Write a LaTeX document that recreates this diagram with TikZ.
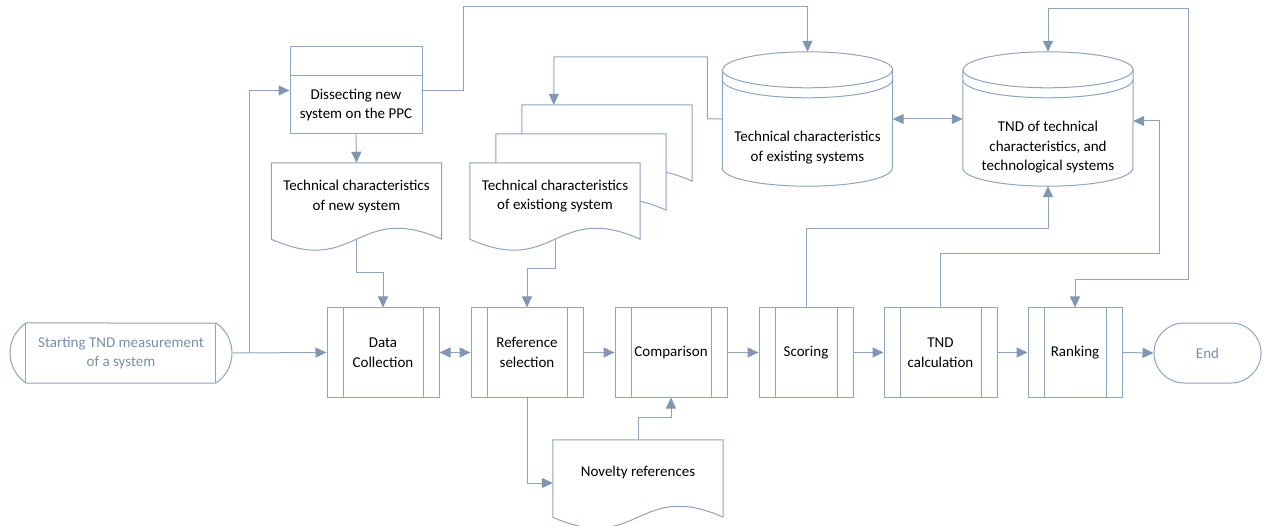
\documentclass[tikz,border=0pt]{standalone}
\usepackage{fontspec}
\setmainfont{Carlito}
\usetikzlibrary{arrows.meta,calc,shapes.misc}
\definecolor{linec}{RGB}{143,164,190}
\definecolor{arrc}{RGB}{128,150,178}
\definecolor{termtxt}{RGB}{122,143,170}
\newcommand\docoutline[1]{%
  \draw[conn,fill=white] (#1.north west) -- (#1.north east) -- (#1.south east)
    .. controls ($(#1.south)+(0,-38)$) and ($(#1.south)+(0,38)$) .. (#1.south west) -- cycle;}
\newcommand\dboutline[1]{%
  \draw[conn,fill=white] ($(#1.north west)+(0,18)$) -- ($(#1.south west)+(0,-18)$)
    arc[start angle=180,end angle=360,x radius=85pt,y radius=18pt]
    -- ($(#1.north east)+(0,18)$)
    arc[start angle=0,end angle=180,x radius=85pt,y radius=18pt] -- cycle;
  \draw[conn] ($(#1.north west)+(0,18)$) arc[start angle=180,end angle=360,x radius=85pt,y radius=18pt];
  \draw[conn] ($(#1.north west)+(0,28)$) arc[start angle=180,end angle=360,x radius=85pt,y radius=18pt];}
\begin{document}
\begin{tikzpicture}[x=1pt,y=-1pt,
  font=\fontsize{15}{19.5}\selectfont,
  conn/.style={draw=linec,line width=1pt},
  arr/.style={conn,-{Triangle[length=11pt,width=10pt,fill=arrc,color=arrc]}},
  darr/.style={conn,{Triangle[length=11pt,width=10pt,fill=arrc,color=arrc]}-{Triangle[length=11pt,width=10pt,fill=arrc,color=arrc]}},
  txt/.style={align=center,inner sep=0pt},
  proc/.style={draw=linec,line width=1pt,fill=white,minimum height=89pt,inner sep=2pt,align=center,
    path picture={
      \draw[linec,line width=1pt] ([xshift=16pt]path picture bounding box.north west) -- ([xshift=16pt]path picture bounding box.south west);
      \draw[linec,line width=1pt] ([xshift=-16pt]path picture bounding box.north east) -- ([xshift=-16pt]path picture bounding box.south east);}},
  docbox/.style={minimum width=170pt,minimum height=76pt,inner sep=0pt},
  dbbox/.style={minimum width=170pt,minimum height=134pt,inner sep=0pt},
  term/.style={draw=linec,line width=1pt,fill=white,rounded rectangle,minimum height=60pt,text=termtxt,align=center,inner sep=0pt}
]
\useasboundingbox (0,0) rectangle (1265,526);

% terminators
\node[term,rounded rectangle arc length=112,minimum width=222pt,
  path picture={
    \draw[linec,line width=1pt] ([xshift=16pt]path picture bounding box.north west) -- ([xshift=16pt]path picture bounding box.south west);
    \draw[linec,line width=1pt] ([xshift=-17pt]path picture bounding box.north east) -- ([xshift=-17pt]path picture bounding box.south east);}]
  (start) at (121,353) {Starting TND measurement\\of a system};
\node[term,minimum width=107pt] (fin) at (1207.5,353) {End};

% processes
\node[proc,minimum width=112pt] (dc) at (383,352.5) {Data\\Collection};
\node[proc,minimum width=112pt] (ref) at (527,352.5) {Reference\\selection};
\node[proc,minimum width=112pt] (comp) at (671,352.5) {Comparison};
\node[proc,minimum width=94pt] (scoring) at (806,352.5) {Scoring};
\node[proc,minimum width=113pt] (tndcalc) at (940.5,352.5) {TND\\calculation};
\node[proc,minimum width=94pt] (ranking) at (1075,352.5) {Ranking};

% dissecting box
\node[draw=linec,line width=1pt,fill=white,minimum width=132pt,minimum height=87pt,inner sep=0pt] (dissect) at (356,90.5) {};
\draw[conn] ($(dissect.north west)+(0,29)$) -- ($(dissect.north east)+(0,29)$);
\node[txt] (dissectt) at (356,105) {Dissecting new\\system on the PPC};

% documents
\node[docbox] (docnew) at (356.5,201) {};
\docoutline{docnew}
\node[txt] (docnewt) at (356.5,196.5) {Technical characteristics\\of new system};

\node[docbox] (docback) at (607,143) {};
\docoutline{docback}
\node[docbox] (docmid) at (581,172) {};
\docoutline{docmid}
\node[docbox] (docex) at (555,201) {};
\docoutline{docex}
\node[txt] (docext) at (555,196) {Technical characteristics\\of existiong system};

\node[docbox,minimum height=77pt] (novelty) at (638,478.5) {};
\docoutline{novelty}
\node[txt] (noveltyt) at (638,472) {Novelty references};

% databases
\node[dbbox] (exdb) at (807.5,119) {};
\dboutline{exdb}
\node[txt] (exdbt) at (807.5,147.5) {Technical characteristics\\of existing systems};
\node[dbbox] (tnddb) at (1048,119) {};
\dboutline{tnddb}
\node[txt] (tnddbt) at (1048,147.5) {TND of technical\\characteristics, and\\technological systems};

% connectors
\draw[arr] (start.east) -- (dc.west);
\draw[arr] ($(start.east)+(17,0)$) |- (dissect.west);
\draw[arr] (dissect.south) -- (docnew.north);
\draw[arr] (docnew.south) -- ++(0,33) -| (dc.north);
\draw[arr] (docex.south) -- ++(0,29) -| (ref.north);
\draw[arr] (dissect.east) -- ++(41,0) |- (807.5,7) -- (exdb.north);
\draw[arr] (exdb.west) -- ++(-15,0) |- (554,57) -- ($(docback.north west)+(32,0)$);
\draw[darr] (exdb.east) -- (tnddb.west);
\draw[darr] (dc.east) -- (ref.west);
\draw[arr] (ref.east) -- (comp.west);
\draw[arr] (comp.east) -- (scoring.west);
\draw[arr] (scoring.east) -- (tndcalc.west);
\draw[arr] (tndcalc.east) -- (ranking.west);
\draw[arr] (ranking.east) -- (fin.west);
\draw[arr] (ref.south) |- ($(novelty.west)+(0,4.5)$);
\draw[arr] (novelty.north) -- ++(0,-22) -| (comp.south);
\draw[arr] (scoring.north) -- ++(0,-79) -| (tnddb.south);
\draw[arr] (tndcalc.north) -- ++(0,-54) -| ($(tnddb.east)+(26,2)$) -- ($(tnddb.east)+(0,2)$);
\draw[darr] (ranking.north) -- ++(0,-28) -| (1188,9) -| (tnddb.north);
\end{tikzpicture}
\end{document}
